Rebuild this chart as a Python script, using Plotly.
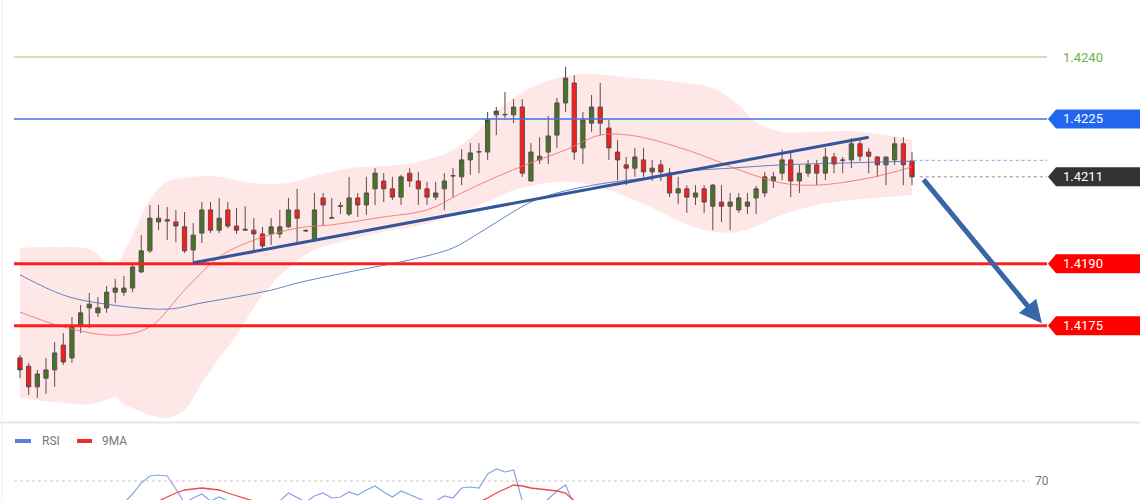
import plotly.graph_objects as go

# ---------------- data ----------------
opens = [1.41672, 1.41652, 1.41602, 1.41623, 1.41643, 1.41703, 1.41672, 1.41752, 1.41793, 1.41781,
         1.41793, 1.41831, 1.41831, 1.41841, 1.41880, 1.41931, 1.42001, 1.42003, 1.42001, 1.41989,
         1.41933, 1.41974, 1.42030, 1.41981, 1.42030, 1.41991, 1.41981, 1.41981, 1.41972, 1.41972,
         1.41972, 1.41989, 1.42030, 1.41979, 1.41957, 1.42059, 1.42010, 1.42039, 1.42020, 1.42059,
         1.42042, 1.42081, 1.42100, 1.42081, 1.42061, 1.42119, 1.42100, 1.42081, 1.42061, 1.42081,
         1.42112, 1.42110, 1.42151, 1.42170, 1.42170, 1.42260, 1.42260, 1.42260, 1.42279, 1.42100,
         1.42151, 1.42170, 1.42211, 1.42289, 1.42337, 1.42180, 1.42240, 1.42279, 1.42228, 1.42170,
         1.42139, 1.42131, 1.42151, 1.42122, 1.42139, 1.42119, 1.42071, 1.42081, 1.42061, 1.42081,
         1.42039, 1.42049, 1.42039, 1.42030, 1.42039, 1.42059, 1.42071, 1.42100, 1.42119, 1.42151,
         1.42100, 1.42119, 1.42139, 1.42119, 1.42158, 1.42151, 1.42151, 1.42190, 1.42170, 1.42158,
         1.42139, 1.42151, 1.42190, 1.42148]
highs = [1.41679, 1.41660, 1.41643, 1.41672, 1.41710, 1.41732, 1.41771, 1.41800, 1.41829, 1.41819,
         1.41846, 1.41863, 1.41870, 1.41902, 1.41969, 1.42042, 1.42042, 1.42037, 1.42030, 1.42025,
         1.41998, 1.42049, 1.42049, 1.42059, 1.42049, 1.42035, 1.42039, 1.42010, 1.41989, 1.42010,
         1.42030, 1.42059, 1.42081, 1.41984, 1.42071, 1.42071, 1.42059, 1.42049, 1.42110, 1.42071,
         1.42110, 1.42131, 1.42119, 1.42110, 1.42115, 1.42131, 1.42122, 1.42098, 1.42098, 1.42119,
         1.42131, 1.42177, 1.42192, 1.42192, 1.42267, 1.42279, 1.42315, 1.42298, 1.42298, 1.42192,
         1.42206, 1.42257, 1.42301, 1.42376, 1.42356, 1.42267, 1.42308, 1.42337, 1.42248, 1.42199,
         1.42158, 1.42180, 1.42180, 1.42151, 1.42151, 1.42131, 1.42110, 1.42090, 1.42090, 1.42090,
         1.42093, 1.42090, 1.42071, 1.42071, 1.42071, 1.42088, 1.42122, 1.42122, 1.42177, 1.42168,
         1.42139, 1.42151, 1.42151, 1.42180, 1.42168, 1.42158, 1.42204, 1.42204, 1.42180, 1.42160,
         1.42158, 1.42206, 1.42206, 1.42170]
lows = [1.41623, 1.41582, 1.41575, 1.41585, 1.41602, 1.41655, 1.41660, 1.41732, 1.41744, 1.41771,
        1.41781, 1.41805, 1.41822, 1.41831, 1.41877, 1.41926, 1.41981, 1.41957, 1.41952, 1.41926,
        1.41902, 1.41950, 1.41974, 1.41974, 1.41986, 1.41972, 1.41979, 1.41933, 1.41933, 1.41945,
        1.41962, 1.41986, 1.41950, 1.41977, 1.41952, 1.41991, 1.42010, 1.42020, 1.42015, 1.42013,
        1.42018, 1.42042, 1.42049, 1.42054, 1.42042, 1.42085, 1.42042, 1.42042, 1.42054, 1.42030,
        1.42061, 1.42090, 1.42115, 1.42119, 1.42151, 1.42211, 1.42252, 1.42240, 1.42110, 1.42100,
        1.42141, 1.42141, 1.42180, 1.42267, 1.42151, 1.42141, 1.42219, 1.42211, 1.42151, 1.42102,
        1.42090, 1.42110, 1.42110, 1.42100, 1.42100, 1.42061, 1.42044, 1.42023, 1.42042, 1.42023,
        1.41981, 1.42001, 1.41981, 1.42023, 1.42020, 1.42020, 1.42061, 1.42083, 1.42102, 1.42061,
        1.42071, 1.42110, 1.42090, 1.42102, 1.42119, 1.42119, 1.42131, 1.42148, 1.42119, 1.42110,
        1.42090, 1.42139, 1.42090, 1.42090]
closes = [1.41643, 1.41602, 1.41633, 1.41643, 1.41684, 1.41662, 1.41747, 1.41781, 1.41802, 1.41793,
          1.41831, 1.41841, 1.41841, 1.41892, 1.41931, 1.42010, 1.42010, 1.42006, 1.41991, 1.41931,
          1.41969, 1.42030, 1.41981, 1.42010, 1.41991, 1.41981, 1.41983, 1.41972, 1.41943, 1.41989,
          1.41989, 1.42030, 1.42010, 1.41980, 1.42030, 1.42042, 1.42011, 1.42040, 1.42059, 1.42042,
          1.42071, 1.42119, 1.42081, 1.42061, 1.42110, 1.42100, 1.42081, 1.42061, 1.42071, 1.42100,
          1.42113, 1.42151, 1.42168, 1.42171, 1.42248, 1.42269, 1.42261, 1.42279, 1.42119, 1.42170,
          1.42160, 1.42209, 1.42289, 1.42349, 1.42170, 1.42248, 1.42279, 1.42240, 1.42180, 1.42151,
          1.42131, 1.42158, 1.42122, 1.42131, 1.42122, 1.42071, 1.42081, 1.42061, 1.42071, 1.42049,
          1.42090, 1.42039, 1.42049, 1.42059, 1.42049, 1.42081, 1.42110, 1.42110, 1.42151, 1.42100,
          1.42119, 1.42139, 1.42119, 1.42158, 1.42141, 1.42150, 1.42190, 1.42160, 1.42160, 1.42139,
          1.42158, 1.42190, 1.42139, 1.42110]
bars = list(range(len(opens)))

# Bollinger band envelope (sampled)
band_x = [0, 4, 8, 10, 11, 12, 13, 15, 17, 19, 21, 23, 25, 28, 31, 34, 38, 42, 46, 50, 53, 55, 57,
          59, 62, 65, 68, 71, 74, 77, 80, 83, 85, 88, 92, 96, 100, 103]
band_upper = [1.41938, 1.41940, 1.41935, 1.41904, 1.41897, 1.41928, 1.41969, 1.42054, 1.42098, 1.42107,
              1.42112, 1.42110, 1.42102, 1.42093, 1.42095, 1.42112, 1.42131, 1.42136, 1.42146, 1.42175,
              1.42223, 1.42267, 1.42301, 1.42325, 1.42349, 1.42359, 1.42356, 1.42349, 1.42344, 1.42337,
              1.42325, 1.42284, 1.42243, 1.42219, 1.42219, 1.42221, 1.42211, 1.42199]
band_lower = [1.41575, 1.41565, 1.41560, 1.41570, 1.41577, 1.41560, 1.41551, 1.41534, 1.41527, 1.41546,
              1.41611, 1.41672, 1.41727, 1.41824, 1.41890, 1.41933, 1.41957, 1.41977, 1.41991, 1.42018,
              1.42042, 1.42059, 1.42078, 1.42088, 1.42098, 1.42095, 1.42078, 1.42054, 1.42025, 1.41994,
              1.41977, 1.41977, 1.41991, 1.42018, 1.42042, 1.42054, 1.42061, 1.42066]

# short moving average (red thin)
ma_fast_x = [0, 5, 11, 15, 19, 23, 27, 32, 36, 42, 47, 51, 55, 59, 63, 67, 71, 77, 81, 83, 88, 92, 98, 103]
ma_fast = [1.41783, 1.41747, 1.41727, 1.41747, 1.41836, 1.41916, 1.41957, 1.41986, 1.41994, 1.42013,
           1.42030, 1.42071, 1.42110, 1.42144, 1.42175, 1.42211, 1.42209, 1.42175, 1.42144, 1.42127,
           1.42095, 1.42090, 1.42107, 1.42134]
# long moving average (blue thin)
ma_slow_x = [0, 5, 9, 17, 21, 29, 32, 38, 45, 50, 53, 59, 62, 67, 72, 76, 82, 88, 96, 103]
ma_slow = [1.41873, 1.41824, 1.41805, 1.41790, 1.41805, 1.41836, 1.41853, 1.41880, 1.41909, 1.41938,
           1.41974, 1.42049, 1.42071, 1.42093, 1.42107, 1.42122, 1.42131, 1.42139, 1.42144, 1.42148]

# trend line and projection arrow
trend_x = [20, 98]
trend_y = [1.41902, 1.42206]
arrow_from = (104.2, 1.42107)
arrow_to = (118.0, 1.41756)

# key levels
levels = [1.4240, 1.4225, 1.4190, 1.4175]
level_labels = ["1.4240", "1.4225", "1.4190", "1.4175"]
level_colors = ["#b9dca6", "#3d74e6", "#ff1e1e", "#ff1e1e"]
level_widths = [1.5, 1.5, 3, 3]
level_boxes = [None, "#2266f0", "#ff0000", "#ff0000"]
last_price = 1.4211
last_label = "1.4211"
slow_ma_last = 1.42150

# RSI panel
rsi = [44, 42, 41, 43, 46, 45, 47, 48, 49, 48, 49, 47, 48, 57, 68, 75, 76, 75, 62, 48,
       53, 57, 50, 54, 50, 46, 47, 45, 44, 49, 50, 58, 54, 49, 55, 58, 53, 54, 59, 56,
       61, 65, 59, 54, 60, 56, 52, 49, 50, 55, 53, 63, 64, 63, 77, 82, 79, 81, 50, 45,
       46, 52, 60, 66, 46, 48, 49, 46, 43, 42, 40, 44, 41, 42, 41, 36, 38, 35, 37, 35,
       40, 36, 38, 39, 38, 42, 46, 46, 50, 42, 45, 47, 44, 49, 46, 47, 50, 47, 47, 45,
       48, 50, 44, 40]
rsi_ma = [40, 40, 40, 41, 41, 42, 43, 44, 44, 45, 45, 45, 46, 46, 48, 49, 50, 54, 58, 61,
          62, 63, 62, 61, 58, 55, 52, 49, 47, 47, 47, 48, 48, 49, 49, 49, 50, 50, 50, 50,
          50, 50, 50, 50, 50, 50, 50, 50, 49, 49, 49, 49, 49, 49, 53, 58, 62, 66, 65, 63,
          62, 61, 60, 58, 50, 48, 47, 46, 45, 44, 43, 42, 41, 41, 40, 40, 39, 39, 38, 38,
          38, 38, 38, 38, 38, 39, 40, 41, 42, 43, 43, 44, 44, 45, 45, 45, 46, 46, 46, 46,
          46, 47, 46, 45]
rsi_level = 70

# ---------------- figure ----------------
W, H = 1140, 500
X_RANGE = [-2.309, 129.33]
Y_RANGE = [1.415169, 1.425379]
RSI_RANGE = [51, 121]
right_end = 118.6
left_start = -0.69

fig = go.Figure()

# band
fig.add_trace(go.Scatter(x=band_x, y=band_upper, mode="lines", line=dict(width=0, shape="spline"),
                         hoverinfo="skip", showlegend=False))
fig.add_trace(go.Scatter(x=band_x, y=band_lower, mode="lines", line=dict(width=0, shape="spline"),
                         fill="tonexty", fillcolor="rgba(250,110,110,0.17)",
                         hoverinfo="skip", showlegend=False))
# moving averages
fig.add_trace(go.Scatter(x=ma_fast_x, y=ma_fast, mode="lines",
                         line=dict(color="rgba(245,110,110,0.85)", width=1, shape="spline"),
                         hoverinfo="skip", showlegend=False))
fig.add_trace(go.Scatter(x=ma_slow_x, y=ma_slow, mode="lines",
                         line=dict(color="rgba(70,110,190,0.85)", width=1, shape="spline"),
                         hoverinfo="skip", showlegend=False))

# candles
fig.add_trace(go.Candlestick(
    x=bars, open=opens, high=highs, low=lows, close=closes,
    increasing=dict(line=dict(color="#444444", width=1), fillcolor="#1a7a1a"),
    decreasing=dict(line=dict(color="#444444", width=1), fillcolor="#ff0a0a"),
    whiskerwidth=0, showlegend=False, hoverinfo="skip"))

# key levels
for lv, col, wd in zip(levels, level_colors, level_widths):
    fig.add_trace(go.Scatter(x=[left_start, right_end], y=[lv, lv], mode="lines",
                             line=dict(color=col, width=wd), hoverinfo="skip", showlegend=False))

# dotted markers for last price and slow MA
fig.add_trace(go.Scatter(x=[arrow_from[0] - 0.3, right_end], y=[last_price, last_price], mode="lines",
                         line=dict(color="#8a8a8a", width=1, dash="dot"), hoverinfo="skip", showlegend=False))
fig.add_trace(go.Scatter(x=[103.2, right_end], y=[slow_ma_last, slow_ma_last], mode="lines",
                         line=dict(color="#86a3e6", width=1, dash="dot"), hoverinfo="skip", showlegend=False))

# trend line
fig.add_trace(go.Scatter(x=trend_x, y=trend_y, mode="lines",
                         line=dict(color="#34559a", width=3), hoverinfo="skip", showlegend=False))

# RSI panel
fig.add_trace(go.Scatter(x=bars, y=rsi, mode="lines", xaxis="x2", yaxis="y2",
                         line=dict(color="#85a2ea", width=1.2), hoverinfo="skip", showlegend=False))
fig.add_trace(go.Scatter(x=bars, y=rsi_ma, mode="lines", xaxis="x2", yaxis="y2",
                         line=dict(color="#f04848", width=1.3), hoverinfo="skip", showlegend=False))
fig.add_trace(go.Scatter(x=[left_start, 116.5], y=[rsi_level, rsi_level], mode="lines", xaxis="x2", yaxis="y2",
                         line=dict(color="#c8c8c8", width=1, dash="dot"), hoverinfo="skip", showlegend=False))

shapes = []
annotations = []

# label boxes
box_specs = [(levels[1], level_boxes[1], level_labels[1]),
             (last_price, "#333333", last_label),
             (levels[2], level_boxes[2], level_labels[2]),
             (levels[3], level_boxes[3], level_labels[3])]
for lv, col, txt in box_specs:
    shapes.append(dict(type="path", xref="paper", yref="y", xsizemode="pixel", ysizemode="pixel",
                       xanchor=1048 / W, yanchor=lv,
                       path="M0,0 L8,9.5 L92,9.5 L92,-9.5 L8,-9.5 Z",
                       fillcolor=col, line=dict(width=0), layer="above"))
    annotations.append(dict(x=1061 / W, xref="paper", y=lv, yref="y", text=txt, showarrow=False,
                            xanchor="left", yanchor="middle",
                            font=dict(family="Roboto, Arial, sans-serif", size=13, color="white")))
annotations.append(dict(x=1061 / W, xref="paper", y=levels[0], yref="y", text=level_labels[0],
                        showarrow=False, xanchor="left", yanchor="middle",
                        font=dict(family="Roboto, Arial, sans-serif", size=13, color="#6fb043")))

# arrow
annotations.append(dict(x=arrow_to[0], y=arrow_to[1], xref="x", yref="y",
                        ax=arrow_from[0], ay=arrow_from[1], axref="x", ayref="y",
                        text="", showarrow=True, arrowhead=2, arrowsize=0.9, arrowwidth=5,
                        arrowcolor="#3866a6", standoff=0, startstandoff=0))

# panel separator and frame
shapes.append(dict(type="line", xref="paper", yref="paper", x0=0, x1=1, y0=1 - 422.5 / H, y1=1 - 422.5 / H,
                   line=dict(color="#e6e8e8", width=2)))
shapes.append(dict(type="line", xref="paper", yref="paper", x0=2 / W, x1=2 / W, y0=0, y1=1,
                   line=dict(color="#eef0f0", width=1)))

# RSI legend
shapes.append(dict(type="line", xref="paper", yref="paper", x0=15 / W, x1=31 / W,
                   y0=1 - 441 / H, y1=1 - 441 / H, line=dict(color="#5b80dc", width=4)))
shapes.append(dict(type="line", xref="paper", yref="paper", x0=77 / W, x1=92 / W,
                   y0=1 - 441 / H, y1=1 - 441 / H, line=dict(color="#ee2d2d", width=4)))
annotations.append(dict(x=40 / W, y=1 - 441 / H, xref="paper", yref="paper", text="RSI", showarrow=False,
                        xanchor="left", yanchor="middle",
                        font=dict(family="Roboto, Arial, sans-serif", size=12, color="#777777")))
annotations.append(dict(x=100 / W, y=1 - 441 / H, xref="paper", yref="paper", text="9MA", showarrow=False,
                        xanchor="left", yanchor="middle",
                        font=dict(family="Roboto, Arial, sans-serif", size=12, color="#777777")))
annotations.append(dict(x=1033 / W, y=rsi_level, xref="paper", yref="y2", text=str(rsi_level), showarrow=False,
                        xanchor="left", yanchor="middle",
                        font=dict(family="Roboto, Arial, sans-serif", size=12, color="#777777")))

axis_common = dict(showgrid=False, zeroline=False, showticklabels=False, showline=False, ticks="", fixedrange=True)
fig.update_layout(
    width=W, height=H, margin=dict(l=0, r=0, t=0, b=0),
    paper_bgcolor="white", plot_bgcolor="white", showlegend=False,
    xaxis=dict(domain=[0, 1], range=X_RANGE, anchor="y", rangeslider=dict(visible=False), **axis_common),
    yaxis=dict(domain=[1 - 422 / H, 1], range=Y_RANGE, anchor="x", **axis_common),
    xaxis2=dict(domain=[0, 1], range=X_RANGE, anchor="y2", **axis_common),
    yaxis2=dict(domain=[0, 1 - 430 / H], range=RSI_RANGE, anchor="x2", **axis_common),
    shapes=shapes, annotations=annotations,
)

fig.write_html("out.html")
